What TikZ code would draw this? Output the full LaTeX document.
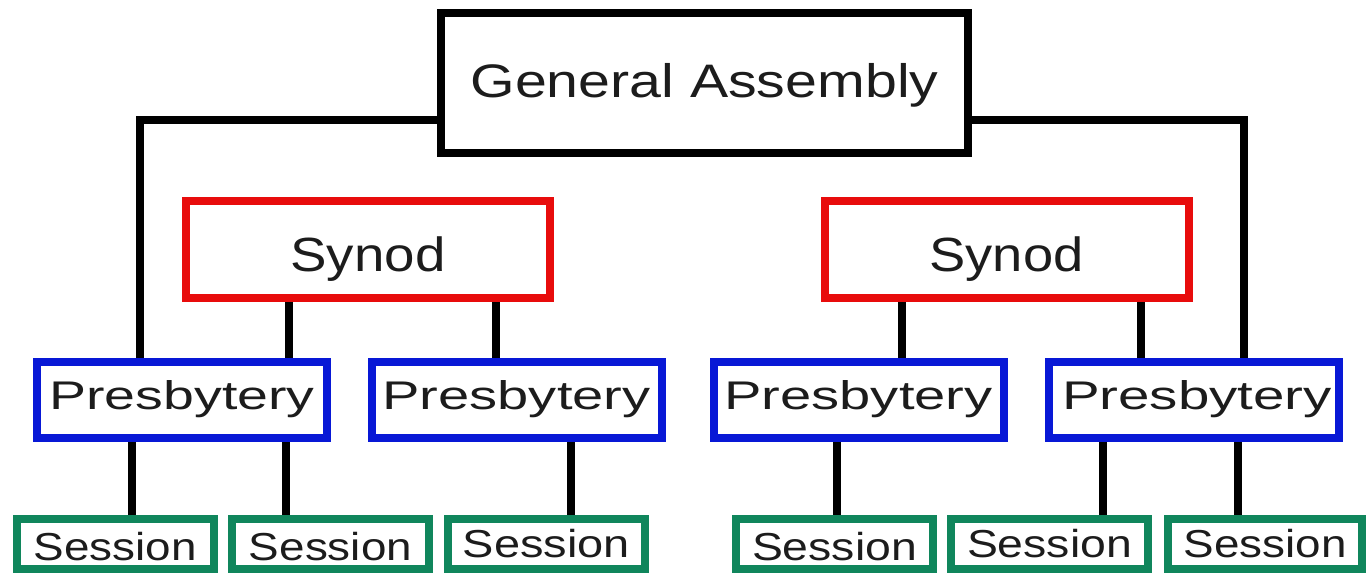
\documentclass[tikz,border=0pt]{standalone}
\usepackage{fontspec}
\setmainfont{Liberation Sans}
\usetikzlibrary{backgrounds}
\definecolor{synred}{RGB}{232,12,12}
\definecolor{presblue}{RGB}{8,24,214}
\definecolor{sessgreen}{RGB}{16,134,92}
\definecolor{txt}{RGB}{28,28,28}
\newcommand{\ftext}[3]{\resizebox{#1pt}{\height}{\fontsize{#2pt}{#2pt}\selectfont #3}}
\begin{document}
\begin{tikzpicture}[x=1pt,y=-1pt,
  box/.style={draw, fill=white, rectangle, line width=8pt, inner sep=0pt, text=txt},
  gabox/.style={box, draw=black, minimum width=527pt, minimum height=140pt, text height=30pt, text depth=2pt},
  synbox/.style={box, draw=synred, minimum width=364pt, minimum height=97pt, text height=44pt, text depth=0pt},
  presbox/.style={box, draw=presblue, minimum width=290pt, minimum height=76pt, text height=30pt, text depth=12pt},
  sessbox/.style={box, draw=sessgreen, minimum width=197pt, minimum height=50pt, text height=32pt, text depth=0pt},
  conn/.style={draw=black, line width=8pt, line join=miter}]
\useasboundingbox (0,0) rectangle (1367,574);

% nodes
\node[gabox] (GA) at (704.5,83) {\ftext{468}{47}{General Assembly}};
\node[synbox] (SL) at (368,249.5) {\ftext{155}{48}{Synod}\hspace{14pt}};
\node[synbox] (SR) at (1006.5,249.5) {\ftext{154}{48}{Synod}};

\node[presbox] (P1) at (182,400) {\ftext{265}{40}{Presbytery}};
\node[presbox] (P2) at (516.5,400) {\ftext{268}{40}{Presbytery}};
\node[presbox] (P3) at (858.5,400) {\ftext{268}{40}{Presbytery}};
\node[presbox] (P4) at (1193.5,400) {\hspace{7pt}\ftext{270}{40}{Presbytery}};

\node[sessbox] (S1) at (115,544) {\ftext{163}{39}{Session}\hspace{7pt}};
\node[sessbox] (S2) at (330.5,544) {\ftext{163}{39}{Session}};
\node[sessbox, text height=28pt, text depth=2pt] (S3) at (546.5,544) {\ftext{167}{39}{Session}\hspace{7pt}};
\node[sessbox] (S4) at (834.5,544) {\ftext{165}{39}{Session}\hspace{11pt}};
\node[sessbox, text height=28pt, text depth=2pt] (S5) at (1049.5,544) {\ftext{165}{39}{Session}\hspace{7pt}};
\node[sessbox, minimum width=194pt, text height=28pt, text depth=2pt] (S6) at (1265,544) {\ftext{163}{39}{Session}\hspace{13pt}};

% connectors
\begin{pgfonlayer}{background}
\draw[conn] (GA.west |- 0,120) -| (140,0 |- P1.north);
\draw[conn] (GA.east |- 0,120) -| (1244,0 |- P4.north);
\draw[conn] (289,0 |- SL.south) -- (289,0 |- P1.north);
\draw[conn] (496,0 |- SL.south) -- (496,0 |- P2.north);
\draw[conn] (902,0 |- SR.south) -- (902,0 |- P3.north);
\draw[conn] (1141,0 |- SR.south) -- (1141,0 |- P4.north);
\draw[conn] (132,0 |- P1.south) -- (132,0 |- S1.north);
\draw[conn] (286,0 |- P1.south) -- (286,0 |- S2.north);
\draw[conn] (571,0 |- P2.south) -- (571,0 |- S3.north);
\draw[conn] (837,0 |- P3.south) -- (837,0 |- S4.north);
\draw[conn] (1103,0 |- P4.south) -- (1103,0 |- S5.north);
\draw[conn] (1238,0 |- P4.south) -- (1238,0 |- S6.north);
\end{pgfonlayer}
\end{tikzpicture}
\end{document}
